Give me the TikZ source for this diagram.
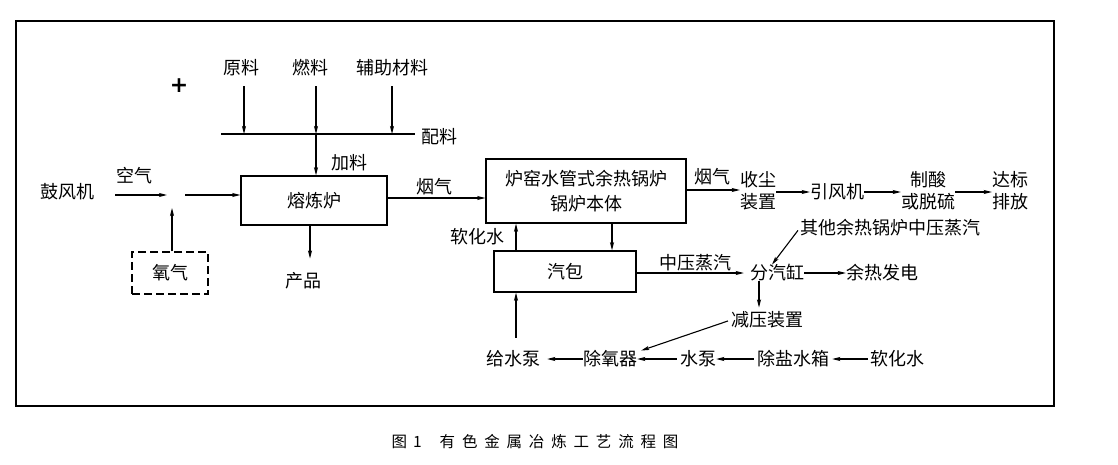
\documentclass[tikz,border=0pt]{standalone}
\usepackage{fontspec}
\newfontfamily\cjk{Noto Sans CJK SC}
\newfontfamily\capfont[LetterSpace=44]{Noto Sans CJK SC}
\newfontfamily\plusfont{DejaVu Sans}
\usetikzlibrary{arrows.meta}
\begin{document}
\begin{tikzpicture}[x=1pt,y=-1pt,
  txt/.style={font=\cjk\fontsize{18}{20}\selectfont, inner sep=0pt, text height=15pt, text depth=1.5pt},
  txttwo/.style={font=\cjk\fontsize{18}{22}\selectfont, inner sep=0pt, align=center},
  boxn/.style={draw, line width=1.4pt, inner sep=0pt, font=\cjk\fontsize{18}{25}\selectfont, align=center},
  arr/.style={line width=1.1pt, -{Stealth[length=8pt,width=4pt,inset=1.5pt]}},
  ln/.style={line width=1.1pt}]
\useasboundingbox (0,0) rectangle (1118,465);
\draw[line width=2.2pt] (16,21) rectangle (1054,406);

\node[font=\plusfont\bfseries\fontsize{22}{22}\selectfont, inner sep=0pt] (plus) at (179,86) {+};

% raw materials
\node[txt] (yl) at (241,68) {原料};
\node[txt] (rl) at (310,68) {燃料};
\node[txt] (fz) at (392,68) {辅助材料};
\node[txt] (pl) at (439,137) {配料};
\coordinate (barL) at (221,134);
\coordinate (barR) at (415,134);
\draw[ln] (barL) -- (barR);
\draw[arr, shorten <=10pt] ([xshift=3pt]yl.south) -- ([xshift=3pt]yl.south |- barL);
\draw[arr, shorten <=10pt] ([xshift=6pt]rl.south) -- ([xshift=6pt]rl.south |- barL);
\draw[arr, shorten <=10pt] (fz.south) -- (fz.south |- barL);

% furnace
\node[boxn, minimum width=146pt, minimum height=49pt] (furn) at (314,200.5) {熔炼炉};
\coordinate (feed) at ([xshift=6pt]rl.south |- barL);
\draw[arr] (feed) -- (feed |- furn.north);
\node[txt] (jl) at (349,163) {加料};

\node[txt] (blower) at (67,192) {鼓风机};
\node[txt] (air) at (134,176) {空气};
\coordinate (mix) at (176,195);
\draw[arr, shorten <=21pt] (blower.east |- mix) -- ([xshift=-9pt]mix);
\draw[arr] ([xshift=9pt]mix) -- (furn.west |- mix);
\node[boxn, dash pattern=on 8pt off 4pt, minimum width=76pt, minimum height=42pt] (oxy) at (170,273) {氧气};
\draw[arr] ([xshift=2pt]oxy.north) -- ([xshift=-4pt,yshift=-13pt]mix);

\node[txt] (prod) at (303,281) {产品};
\draw[arr, shorten >=14pt] ([xshift=-4pt]furn.south) -- ([xshift=-4pt]furn.south |- prod.north);

% boiler
\node[boxn, minimum width=200pt, minimum height=64pt] (boiler) at (586,191) {炉窑水管式余热锅炉\\锅炉本体};
\node[txt] (fg1) at (434,187) {烟气};
\coordinate (a1) at ([yshift=2.5pt]furn.east);
\draw[arr] (a1) -- (a1 -| boiler.west);

\node[txt] (fg2) at (712,177) {烟气};
\node[txttwo] (dust) at (758,191) {收尘\\装置};
\coordinate (a2) at ([yshift=1pt]boiler.east);
\draw[arr] (a2) -- (a2 -| dust.west);
\node[txt] (fan) at (837,192) {引风机};
\draw[arr] (dust.east |- fan) -- (fan.west);
\node[txttwo] (acid) at (928,191) {制酸\\或脱硫};
\draw[arr] (fan.east) -- (acid.west |- fan);
\node[txttwo] (emit) at (1010,191) {达标\\排放};
\draw[arr] (acid.east |- fan) -- (emit.west |- fan);

% drum
\node[boxn, minimum width=142pt, minimum height=41pt] (drum) at (565,271.5) {汽包};
\node[txt] (soft1) at (477,237) {软化水};
\coordinate (d1) at ([xshift=-49pt]drum.north);
\draw[arr] (d1) -- (d1 |- boiler.south);
\coordinate (b1) at ([xshift=26pt]boiler.south);
\draw[arr] (b1) -- (b1 |- drum.north);

\node[txt] (mps) at (695,263) {中压蒸汽};
\node[txt] (hdr) at (777,273) {分汽缸};
\coordinate (a3) at ([yshift=-1.5pt]drum.east);
\draw[arr, shorten >=6pt] (a3) -- (a3 -| hdr.west);
\node[txt] (power) at (882,273) {余热发电};
\draw[arr] (hdr.east) -- (power.west);
\node[txt] (other) at (890,228) {其他余热锅炉中压蒸汽};
\draw[arr, shorten <=3pt] (other.west) -- ([xshift=-5pt]hdr.north);
\node[txt] (prv) at (767,320) {减压装置};
\coordinate (h1) at ([xshift=-18pt]hdr.south);
\draw[arr, shorten >=4pt] (h1) -- (h1 |- prv.north);

% bottom row
\node[txt] (fwp) at (513,359) {给水泵};
\node[txt] (dea) at (610,359) {除氧器};
\node[txt] (wp) at (698,359) {水泵};
\node[txt] (tank) at (793,359) {除盐水箱};
\node[txt] (soft2) at (897,359) {软化水};
\draw[arr, shorten >=7pt] (dea.west) -- (fwp.east);
\draw[arr, shorten <=3pt] (wp.west) -- (dea.east);
\draw[arr, shorten <=3pt] (tank.west) -- (wp.east);
\draw[arr, shorten <=2pt, shorten >=3pt] (soft2.west) -- (tank.east);
\coordinate (f1) at ([xshift=3pt]fwp.north);
\draw[arr, shorten <=13pt] (f1) -- (f1 |- drum.south);
\draw[arr, shorten <=3pt] (prv.west) -- ([xshift=4pt]dea.north east);

% caption
\node[font=\capfont\fontsize{15.5}{17}\selectfont, inner sep=0pt] (cap) at (535,442) {图\hspace{6pt}1\hspace{18pt}有色金属冶炼工艺流程图};
\end{tikzpicture}
\end{document}
